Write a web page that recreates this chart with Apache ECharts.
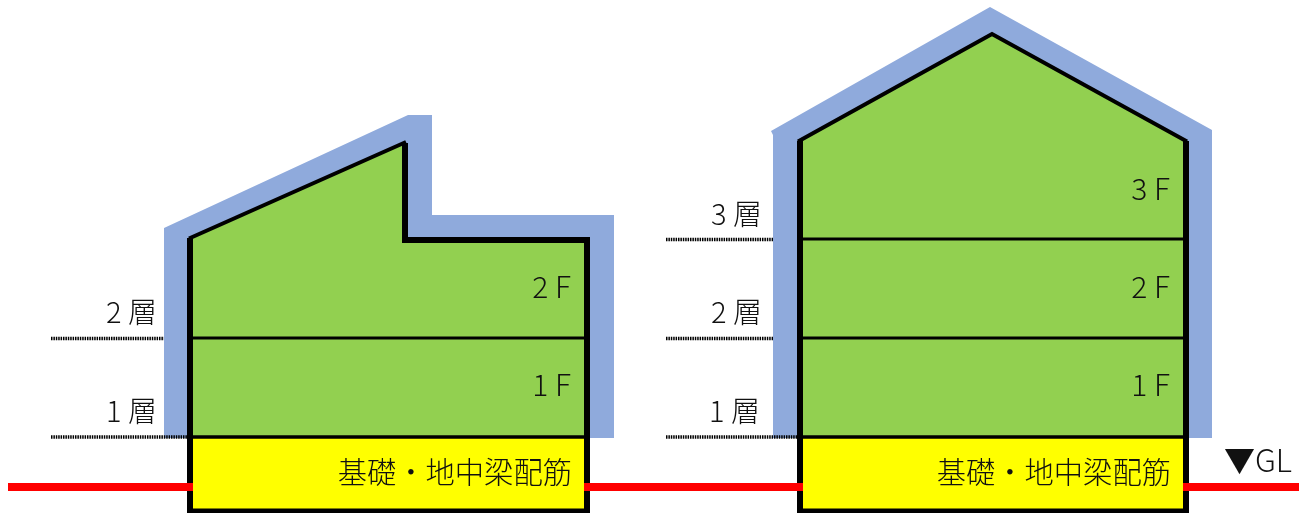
<!DOCTYPE html>
<html><head><meta charset="utf-8">
<style>html,body{margin:0;padding:0;background:#fff}#c{width:1300px;height:513px}</style>
<script src="https://cdn.jsdelivr.net/npm/echarts@6/dist/echarts.min.js"></script>
</head><body><div id="c"></div>
<script>
// Drawing units on the hidden axes
const insulationA = [[164,228],[408,115],[432,115],[432,215],[614,215],[614,438],[164,438]];
const insulationB = [[771,131],[990,7],[1212,130],[1212,438],[773,438],[773,135]];
const roomsA = [[190,238],[405,143],[405,240],[587,240],[587,437],[190,437]];
const roomsB = [[800,141],[992,34],[1186,141],[1186,437],[800,437]];
const footingA = [[190,437],[587,437],[587,511],[190,511]];
const footingB = [[800,437],[1186,437],[1186,511],[800,511]];
const wallsA = [[190,238],[190,511.5],[587,511.5],[587,240],[405,240],[405,143]];
const wallsB = [[800,141],[800,511.5],[1186,511.5],[1186,141]];
const roofA = [[189,238.5],[406,142]];
const roofB = [[798,141.5],[992,34],[1187,141.5]];
const floorLines = [[[190,338],[587,338]],[[800,239],[1186,239]],[[800,338],[1186,338]]];
const slabLines = [[[190,437],[587,437]],[[800,437],[1186,437]]];
const levelLines = [[[51,338.5],[164,338.5]],[[51,437],[190,437]],[[666,239.5],[773,239.5]],[[666,338.5],[773,338.5]],[[666,437],[800,437]]];
const groundLines = [[[8,487],[193,487]],[[584,487],[803,487]],[[1183,487],[1299,487]]];
const storeyLabels = [['2 層',157,312],['1 層',157,411],['3 層',762,214],['2 層',762,312],['1 層',760,411]];
const floorLabels = [['2 F',571,287],['1 F',571,385],['3 F',1170,189],['2 F',1170,287],['1 F',1170,385]];
const footingLabels = [['基礎・地中梁配筋',572,472],['基礎・地中梁配筋',1171,472]];
const glLabels = [['▼GL',1292,460]];

const FONT = '"Noto Sans CJK JP","Noto Sans",sans-serif';
function polygon(points, fill, z){
  return {type:'custom',coordinateSystem:'cartesian2d',silent:true,z:z,clip:false,
    data:[[points[0][0],points[0][1]]],
    renderItem:(p,api)=>({type:'polygon',shape:{points:points.map(q=>api.coord(q))},style:{fill:fill}})};
}
function line(points,color,width,z,dash){
  return {type:'line',data:points,symbol:'none',silent:true,z:z,animation:false,clip:false,
    lineStyle:{color:color,width:width,type:dash||'solid',join:'miter',cap:'butt'}};
}
function labels(rows,size,color,z){
  return {type:'custom',coordinateSystem:'cartesian2d',silent:true,z:z,clip:false,
    data:rows.map(r=>[r[1],r[2]]),
    encode:{x:0,y:1},
    renderItem:(p,api)=>{const c=api.coord([api.value(0),api.value(1)]);
      return {type:'text',x:c[0],y:c[1],style:{text:rows[p.dataIndex][0],fill:color,font:'300 '+size+'px '+FONT,align:'right',verticalAlign:'middle'}};}};
}
const series=[
  polygon(insulationA,'#8faadc',1),polygon(insulationB,'#8faadc',1),
  polygon(roomsA,'#92d050',2),polygon(roomsB,'#92d050',2),
  polygon(footingA,'#ffff00',2),polygon(footingB,'#ffff00',2),
  line(wallsA,'#000',6,4),line(wallsB,'#000',6,4),
  line(roofA,'#000',4,4),line(roofB,'#000',4,4)
];
floorLines.forEach(l=>series.push(line(l,'#000',3,4)));
slabLines.forEach(l=>series.push(line(l,'#000',3.5,4)));
levelLines.forEach(l=>series.push(line(l,'#000',3.5,3,[1.5,0.9])));
groundLines.forEach(l=>series.push(line(l,'#ff0000',8,5)));
series.push(labels(storeyLabels,29,'#111',6),labels(floorLabels,30,'#111',6),labels(footingLabels,29.3,'#111',6),labels(glLabels,31,'#111',6));

const chart=echarts.init(document.getElementById('c'),null,{renderer:'canvas'});
chart.setOption({animation:false,backgroundColor:'#fff',
  grid:{left:0,right:0,top:0,bottom:0},
  xAxis:{type:'value',min:0,max:1300,show:false},
  yAxis:{type:'value',min:0,max:513,inverse:true,show:false},
  series:series});
</script></body></html>
